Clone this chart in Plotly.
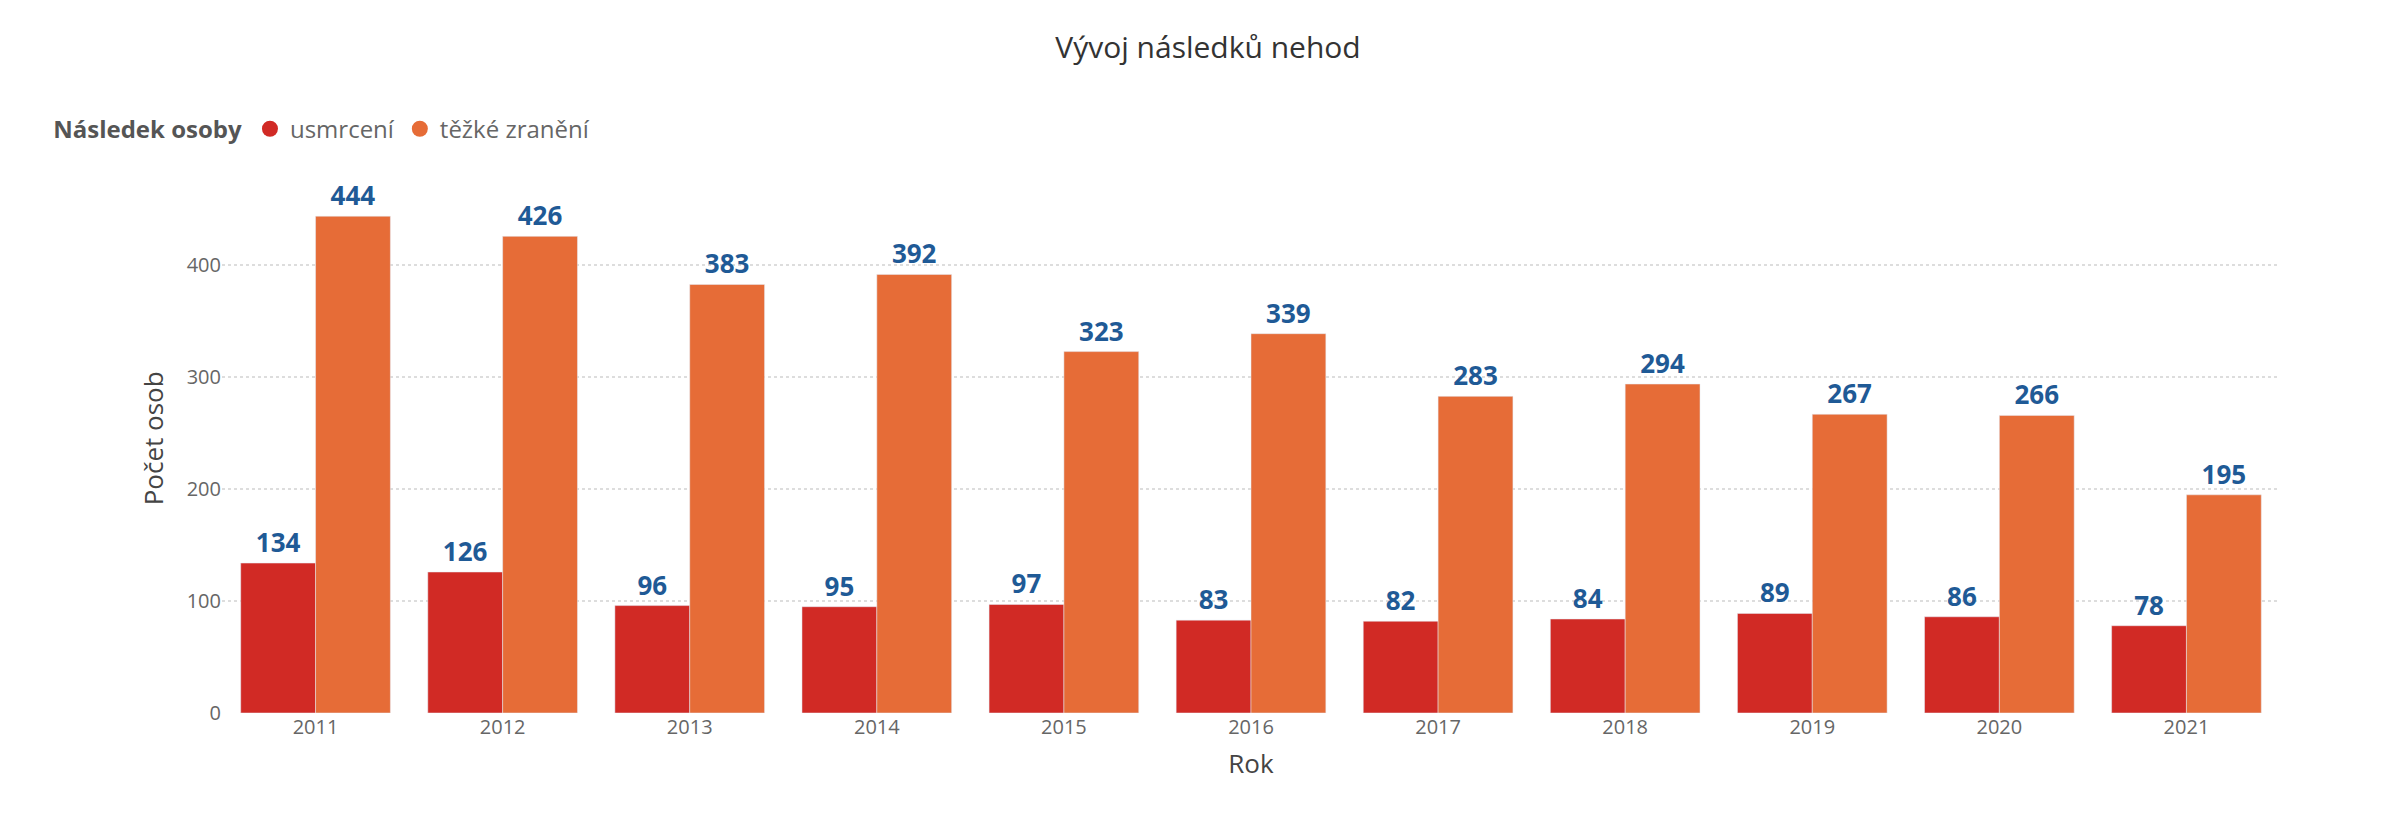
import plotly.graph_objects as go

years = ["2011","2012","2013","2014","2015","2016","2017","2018","2019","2020","2021"]
usmrceni = [134,126,96,95,97,83,82,84,89,86,78]
tezke = [444,426,383,392,323,339,283,294,267,266,195]

font = "Open Sans"
red, orange = "#D12A25", "#E66C37"
lab = dict(family=font, size=26, color="#1F5A96")
fig = go.Figure()
fig.add_bar(x=years, y=usmrceni, name="usmrcení", marker_color=red, showlegend=False,
            text=usmrceni, textposition="outside", textfont=lab, cliponaxis=False)
fig.add_bar(x=years, y=tezke, name="těžké zranění", marker_color=orange, showlegend=False,
            text=tezke, textposition="outside", textfont=lab, cliponaxis=False)
fig.update_traces(texttemplate="<b>%{text}</b>")
for nm, c in [("usmrcení", red), ("těžké zranění", orange)]:
    fig.add_scatter(x=[None], y=[None], mode="markers", name=nm,
                    marker=dict(symbol="circle", size=18, color=c))
fig.update_layout(
    width=2400, height=824, plot_bgcolor="white", paper_bgcolor="white",
    barmode="group", bargap=0.2, bargroupgap=0,
    margin=dict(l=214, r=128, t=126, b=119),
    title=dict(text="Vývoj následků nehod", x=0.5, xanchor="center", y=0.965,
               font=dict(family=font, size=30, color="#333333")),
    font=dict(family=font, color="#666666"),
    legend=dict(orientation="h", xref="container", yref="container", x=0.018, xanchor="left",
                y=0.853, yanchor="middle", itemwidth=30,
                title=dict(text="<b>Následek osoby</b>", font=dict(size=24, color="#555555")),
                font=dict(size=24, color="#666666")),
    xaxis=dict(title=dict(text="Rok", font=dict(size=26, color="#444444")),
               tickfont=dict(size=20, color="#666666"), showgrid=False, ticks=""),
    yaxis=dict(title=dict(text="Počet osob", font=dict(size=26, color="#444444")),
               range=[0, 491], tickvals=[0,100,200,300,400],
               tickfont=dict(size=20, color="#666666"),
               gridcolor="#DDDDDD", griddash="dot", gridwidth=2, zeroline=False),
)
fig.write_html("out.html")
